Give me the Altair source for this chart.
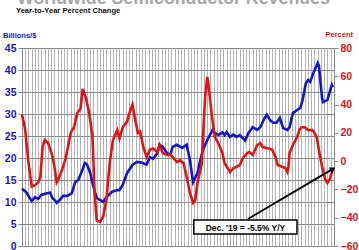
import altair as alt
import pandas as pd

# ---- data ----
blue_dates = ["1996-01-01", "1996-05-01", "1996-10-01", "1997-01-01", "1997-04-01", "1997-07-01",
              "1997-12-01", "1998-03-01", "1998-05-01", "1998-07-01", "1998-09-01", "1998-12-01",
              "1999-03-01", "1999-07-01", "1999-11-01", "2000-02-01", "2000-05-01", "2000-08-01",
              "2000-11-01", "2001-01-01", "2001-04-01", "2001-07-01", "2001-10-01", "2002-01-01",
              "2002-04-01", "2002-07-01", "2002-12-01", "2003-05-01", "2003-07-01", "2003-10-01",
              "2004-02-01", "2004-07-01", "2004-11-01", "2005-04-01", "2005-08-01", "2005-11-01",
              "2006-02-01", "2006-06-01", "2006-08-01", "2006-11-01", "2007-03-01", "2007-06-01",
              "2007-08-01", "2007-12-01", "2008-05-01", "2008-09-01", "2008-12-01", "2009-03-01",
              "2009-07-01", "2009-09-01", "2009-12-01", "2010-04-01", "2010-08-01", "2010-09-01",
              "2010-11-01", "2011-02-01", "2011-06-01", "2011-08-01", "2011-10-01", "2012-01-01",
              "2012-04-01", "2012-07-01", "2012-10-01", "2013-03-01", "2013-06-01", "2013-10-01",
              "2014-02-01", "2014-05-01", "2014-09-01", "2014-11-01", "2015-02-01", "2015-05-01",
              "2015-08-01", "2015-11-01", "2016-02-01", "2016-06-01", "2016-08-01", "2016-11-01",
              "2017-03-01", "2017-06-01", "2017-08-01", "2017-11-01", "2018-01-01", "2018-03-01",
              "2018-06-01", "2018-10-01", "2018-11-01", "2019-02-01", "2019-03-01", "2019-07-01",
              "2019-09-01", "2019-11-01", "2019-12-01"]
blue_values = [13.0, 12.2, 10.2, 11.1, 10.7, 11.6,
               12.0, 12.1, 10.9, 10.5, 9.8, 10.5,
               11.4, 11.4, 12.0, 14.5, 15.0, 16.8,
               18.9, 18.5, 16.6, 13.4, 10.9, 10.5,
               10.0, 11.1, 12.3, 12.7, 12.7, 13.9,
               16.6, 18.4, 19.1, 18.9, 18.5, 20.2,
               19.8, 21.1, 23.0, 22.5, 21.1, 20.7,
               22.5, 23.0, 22.3, 23.0, 19.5, 14.5,
               16.6, 18.9, 21.8, 24.1, 25.9, 26.4,
               25.7, 25.2, 25.8, 25.2, 25.9, 24.8,
               25.3, 24.8, 25.2, 24.0, 25.7, 27.0,
               26.4, 27.0, 29.1, 29.8, 28.6, 28.0,
               28.0, 29.1, 26.8, 26.4, 27.0, 30.2,
               30.9, 31.4, 33.2, 37.0, 37.7, 37.3,
               39.3, 41.6, 41.0, 33.6, 32.7, 33.2,
               35.0, 36.6, 36.1]

red_dates = ["1996-01-01", "1996-04-01", "1996-07-01", "1996-10-01", "1997-01-01", "1997-04-01",
             "1997-06-01", "1997-08-01", "1997-10-01", "1998-01-01", "1998-05-01", "1998-07-01",
             "1998-09-01", "1998-11-01", "1999-02-01", "1999-05-01", "1999-08-01", "1999-10-01",
             "2000-01-01", "2000-04-01", "2000-07-01", "2000-09-01", "2000-12-01", "2001-03-01",
             "2001-06-01", "2001-08-01", "2001-10-01", "2002-01-01", "2002-04-01", "2002-07-01",
             "2002-10-01", "2003-01-01", "2003-05-01", "2003-07-01", "2003-10-01", "2004-02-01",
             "2004-05-01", "2004-07-01", "2004-09-01", "2004-12-01", "2005-02-01", "2005-05-01",
             "2005-08-01", "2005-11-01", "2006-02-01", "2006-06-01", "2006-08-01", "2006-11-01",
             "2007-03-01", "2007-06-01", "2007-08-01", "2007-12-01", "2008-03-01", "2008-06-01",
             "2008-09-01", "2008-12-01", "2009-03-01", "2009-05-01", "2009-07-01", "2009-11-01",
             "2009-12-01", "2010-02-01", "2010-04-01", "2010-05-01", "2010-08-01", "2010-11-01",
             "2011-02-01", "2011-06-01", "2011-08-01", "2012-01-01", "2012-04-01", "2012-07-01",
             "2012-10-01", "2013-01-01", "2013-05-01", "2013-07-01", "2013-10-01", "2014-02-01",
             "2014-05-01", "2014-07-01", "2014-11-01", "2015-04-01", "2015-07-01", "2015-09-01",
             "2016-01-01", "2016-04-01", "2016-06-01", "2016-07-01", "2016-08-01", "2016-11-01",
             "2017-03-01", "2017-05-01", "2017-07-01", "2017-10-01", "2018-01-01", "2018-05-01",
             "2018-07-01", "2018-09-01", "2018-11-01", "2019-02-01", "2019-05-01", "2019-07-01",
             "2019-09-01", "2019-12-01"]
red_values = [33, 22, -1, -18, -17, -15,
              -11, 10, 15, 13, 4, -4,
              -15, -12, -6, 1, 12, 20,
              24, 34, 37, 51, 45, 34,
              18, -22, -42, -43, -39, -27,
              -1, 15, 22, 16, 24, 28,
              36, 40, 31, 20, 21, 10,
              3, 8, 9, 6.5, 11.4, 5.8,
              4.4, 5, 3, -0.6, 0.8, -1.3,
              -11, -22.5, -29.6, -27.5, -15.4, -1.3,
              15, 45, 59.5, 55, 34, 17,
              13, 5.8, -1.3, -7.7, -5, -4,
              -2.7, 2.2, 5.8, 6.5, 4.4, 11.4,
              12.8, 10, 9.3, 8, 3, -2.7,
              -4, -4.8, -7.7, -4, 5.8, 11.4,
              17, 22, 24, 24, 22, 22,
              20, 17, 8, -4, -13, -15.4,
              -13, -5.5]

left_ticks = [0, 5, 10, 15, 20, 25, 30, 35, 40, 45]
right_ticks = [-60, -40, -20, 0, 20, 40, 60, 80]

title_text = ["Worldwide Semiconductor Revenues"]
subtitle_text = ["Year-to-Year Percent Change"]
left_unit = ["Billions/$"]
right_unit = ["Percent"]

note_text = ["Dec. '19 = -5.5% Y/Y"]
note_x_start = ["2009-03-20"]
note_x_end = ["2017-02-25"]
note_y_top = [-41.6]
note_y_bottom = [-51.5]
note_x_mid = ["2013-03-10"]
note_y_mid = [-47.0]
arrow_x_start = ["2013-05-18"]
arrow_y_start = [-40.9]
arrow_x_end = ["2019-12-01"]
arrow_y_end = [-5.5]

FONT = "Liberation Sans"
BLUE = "#1414c8"
RED = "#e01414"

df_blue = pd.DataFrame({"date": blue_dates, "v": blue_values})
df_red = pd.DataFrame({"date": red_dates, "p": red_values})
df_box = pd.DataFrame({"date": note_x_start, "x2": note_x_end, "p": note_y_top, "y2": note_y_bottom})
df_note = pd.DataFrame({"date": note_x_mid, "p": note_y_mid, "t": note_text})
df_arrow = pd.DataFrame({"date": arrow_x_start, "x2": arrow_x_end, "p": arrow_y_start, "y2": arrow_y_end})
df_head = pd.DataFrame({"date": arrow_x_end, "p": arrow_y_end})

x_scale = alt.Scale(domain=[alt.DateTime(year=1996, month=1, date=1),
                            alt.DateTime(year=2020, month=1, date=1)])
x_axis = alt.Axis(grid=True, labels=False, ticks=False, domain=False, title=None,
                  tickCount={"interval": "month", "step": 3},
                  gridColor="#b4b4b4", gridWidth=1, gridOpacity=1)
X = alt.X("date:T", scale=x_scale, axis=x_axis)

pct_scale = alt.Scale(domain=[-60, 80], nice=False, zero=False)
pct_axis = alt.Axis(values=right_ticks, orient="right", title=None, grid=False,
                    domainColor="#8a8a8a", tickColor="#8a8a8a", tickSize=4,
                    labelColor=RED, labelFont=FONT, labelFontWeight="bold",
                    labelFontSize=10.5, labelPadding=2)
Y_PCT = alt.Y("p:Q", scale=pct_scale, axis=pct_axis)

blue = alt.Chart(df_blue).mark_line(color=BLUE, strokeWidth=2.6).encode(
    x=X,
    y=alt.Y("v:Q", scale=alt.Scale(domain=[0, 45], nice=False, zero=False),
            axis=alt.Axis(values=left_ticks, orient="left", title=None, grid=True,
                          gridColor="#8a8a8a", gridWidth=1, gridOpacity=1,
                          domainColor="#8a8a8a", tickColor="#8a8a8a", tickSize=4,
                          labelColor=BLUE, labelFont=FONT, labelFontWeight="bold",
                          labelFontSize=10.5, labelPadding=2)),
)

red = alt.Chart(df_red).mark_line(color=RED, strokeWidth=2.6).encode(x=X, y=Y_PCT)

box = alt.Chart(df_box).mark_rect(fill="white", stroke="black", strokeWidth=1.5).encode(
    x=X, x2="x2:T", y=Y_PCT, y2="y2:Q",
)
note = alt.Chart(df_note).mark_text(font=FONT, fontWeight="bold", fontSize=8.5,
                                    color="black", align="center", baseline="middle").encode(
    x=X, y=Y_PCT, text="t:N",
)
arrow = alt.Chart(df_arrow).mark_rule(color="black", strokeWidth=2).encode(
    x=X, x2="x2:T", y=Y_PCT, y2="y2:Q",
)
head = alt.Chart(df_head).mark_point(shape="triangle-up", filled=True, color="black",
                                     size=45, angle=59, opacity=1).encode(x=X, y=Y_PCT)

red_group = alt.layer(red, arrow, head, box, note)

def label(texts, px, py, size, color, align="left", baseline="middle", weight="bold"):
    return alt.Chart(pd.DataFrame({"t": texts})).mark_text(
        font=FONT, fontWeight=weight, fontSize=size, color=color,
        align=align, baseline=baseline).encode(
        x=alt.value(px), y=alt.value(py), text="t:N")

title = label(title_text, -5, -44.5, 17.8, "#a8a8a8", baseline="alphabetic")
subtitle = label(subtitle_text, -6, -37, 7.6, "#111111")
lunit = label(left_unit, -19, -12, 7.5, BLUE)
runit = label(right_unit, 331, -13, 7.5, RED, align="right")

chart = alt.layer(blue, red_group, title, subtitle, lunit, runit).resolve_scale(
    y="independent"
).properties(
    width=312, height=198, autosize="none",
    padding={"left": 22, "top": 48, "right": 25, "bottom": 4},
    background="white",
).configure_view(stroke=None)

chart.save("out.html", embed_options={"renderer": "svg", "actions": False})
